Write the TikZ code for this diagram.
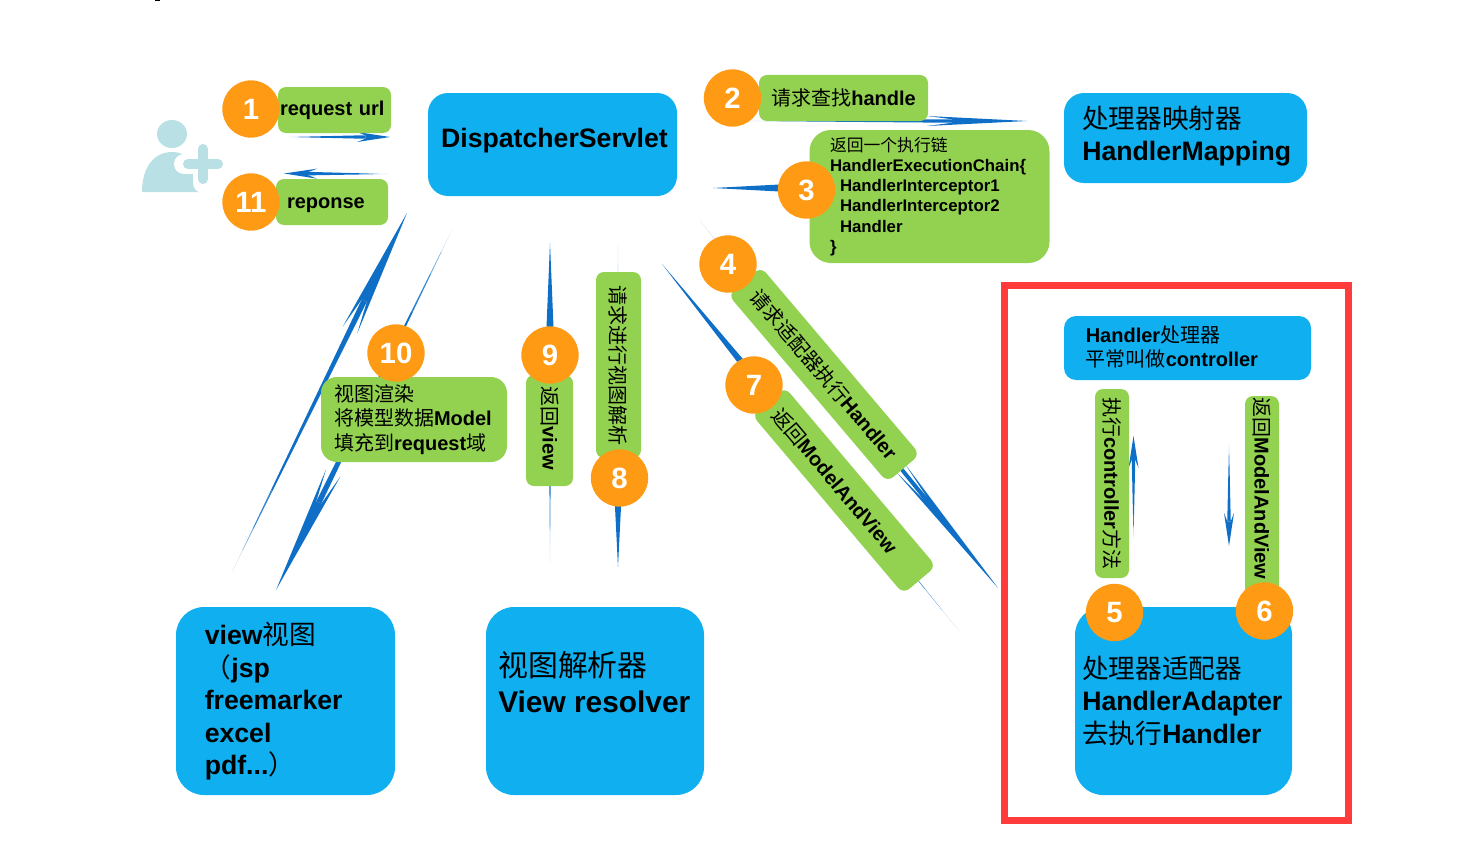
\documentclass[tikz,border=0pt]{standalone}
\usepackage{fontspec}
\setmainfont{Liberation Sans}
\newfontfamily\cjk{Noto Sans CJK SC}
\usetikzlibrary{calc}
\definecolor{boxblue}{HTML}{10B0F0}
\definecolor{boxgreen}{HTML}{92D250}
\definecolor{badgeorange}{HTML}{FF9A15}
\definecolor{needleblue}{HTML}{0F6FC6}
\definecolor{framered}{HTML}{FF3B3B}
\definecolor{persontint}{HTML}{B9E0E4}
\def\px{0.75pt}
\newcommand{\zh}[1]{{\cjk\mdseries #1}}
% tail, tip, head length, head half width
\newcommand{\needle}[4]{
\coordinate (neck) at ($(#2)!#3*\px!(#1)$);
\coordinate (notch) at ($(#2)!0.75*#3*\px!(#1)$);
\foreach \segA/\segB/\tint in {0/.08/30,.08/.16/60,.16/.3/85,.3/1/100}{
\fill[needleblue!\tint!white] ($(#1)!\segA!(notch)!\segA*0.35*#4*\px!90:(#2)$) -- ($(#1)!\segB!(notch)!\segB*0.35*#4*\px!90:(#2)$) -- ($(#1)!\segB!(notch)!\segB*0.35*#4*\px!-90:(#2)$) -- ($(#1)!\segA!(notch)!\segA*0.35*#4*\px!-90:(#2)$) -- cycle;}
\fill[needleblue] ($(notch)!0.35*#4*\px!90:(#2)$) -- ($(neck)!#4*\px!90:(#2)$) -- (#2) -- ($(neck)!#4*\px!-90:(#2)$) -- ($(notch)!0.35*#4*\px!-90:(#2)$) -- cycle;}
\tikzset{
bluebox/.style={fill=boxblue,rounded corners=15pt,inner sep=0pt,font=\fontsize{20}{24.4}\selectfont\bfseries,align=left},
greenbox/.style={fill=boxgreen,rounded corners=6pt,inner sep=0pt,font=\fontsize{15}{18.4}\selectfont\bfseries,align=left},
boxtext/.style={inner sep=0pt,font=\fontsize{15}{18.4}\selectfont\bfseries,align=left},
bigtext/.style={inner sep=0pt,font=\fontsize{20}{24.4}\selectfont\bfseries,align=left},
badge/.style={circle,fill=badgeorange,text=white,minimum size=43pt,inner sep=0pt,font=\fontsize{22}{24}\selectfont\bfseries}
}
\begin{document}
\begin{tikzpicture}[x=0.75pt,y=-0.75pt]
\useasboundingbox (0,0) rectangle (1462,849);
\fill (155,0) rectangle (160,1);
%person
\fill[persontint] (172,134) ellipse (15 and 14);
\fill[persontint] (142,192) .. controls (142,166) and (155,152) .. (172,152) .. controls (188,152) and (200,164) .. (201,192) -- cycle;
\draw[white,line width=15pt,line cap=round] (184,164) -- (222,164) (203,145) -- (203,183);
\draw[persontint,line width=7.5pt,line cap=round] (188,164) -- (218,164) (203,149) -- (203,179);
%ends of the arrows
\coordinate (urltail) at (287,137);
\coordinate (urltip) at (390,137);
\coordinate (repotail) at (387,174);
\coordinate (repotip) at (284,173.5);
\coordinate (findtail) at (748,121);
\coordinate (findtip) at (1027,121);
\coordinate (chaintail) at (1000,188);
\coordinate (chaintip) at (713,188);
\coordinate (adapttail) at (700,221);
\coordinate (adapttip) at (998,588);
\coordinate (mavtail) at (959,631);
\coordinate (mavtip) at (662,264);
\coordinate (resolvetail) at (618,245);
\coordinate (resolvetip) at (618,567);
\coordinate (viewtail) at (550,563);
\coordinate (viewtip) at (550,243);
\coordinate (rendertail) at (452,230);
\coordinate (rendertip) at (276,590);
\coordinate (backtail) at (232,572);
\coordinate (backtip) at (407,213);
\coordinate (runtail) at (1133.5,538);
\coordinate (runtip) at (1133.5,436);
\coordinate (rettail) at (1229,443);
\coordinate (rettip) at (1229,546);
\needle{urltail}{urltip}{33}{5}
\needle{repotail}{repotip}{33}{5}
\needle{findtail}{findtip}{100}{5}
\needle{chaintail}{chaintip}{95}{5}
\needle{adapttail}{adapttip}{155}{6}
\needle{mavtail}{mavtip}{180}{4.5}
\needle{resolvetail}{resolvetip}{120}{6}
\needle{viewtail}{viewtip}{120}{5}
\needle{rendertail}{rendertip}{130}{8}
\needle{backtail}{backtip}{130}{8}
\needle{runtail}{runtip}{32}{5}
\needle{rettail}{rettip}{33}{5}
%blue boxes
\node[bluebox,minimum width=249*\px,minimum height=103*\px] (servlet) at (552.5,144.5) {};
\node[bigtext] (servlettext) at (554.5,140.5) {DispatcherServlet};
\node[bluebox,minimum width=243*\px,minimum height=90*\px] (mapping) at (1185.5,138) {};
\node[bigtext,anchor=west] (mappingtext) at (1082,136) {\zh{处理器映射器}\\HandlerMapping};
\node[bluebox,rounded corners=9pt,minimum width=247*\px,minimum height=64*\px] (handler) at (1187.5,348) {};
\node[boxtext,anchor=west] (handlertext) at (1085.5,347) {Handler\zh{处理器}\\\zh{平常叫做}controller};
\node[bluebox,rounded corners=21pt,minimum width=219*\px,minimum height=188*\px] (viewbox) at (285.5,701) {};
\node[bigtext,anchor=west] (viewtext) at (204.5,701.5) {view\zh{视图}\\\zh{（}jsp\\freemarker\\excel\\pdf...\zh{）}};
\node[bluebox,rounded corners=21pt,minimum width=218*\px,minimum height=188*\px] (resolver) at (595,701) {};
\node[bigtext,font=\fontsize{22.4}{27}\selectfont\bfseries,anchor=west] (resolvertext) at (498,682) {\zh{视图解析器}\\View resolver};
\node[bluebox,rounded corners=21pt,minimum width=217*\px,minimum height=188*\px] (adapter) at (1183.5,701) {};
\node[bigtext,anchor=west] (adaptertext) at (1082,700.5) {\zh{处理器适配器}\\HandlerAdapter\\\zh{去执行}Handler};
%green boxes
\node[greenbox,inner xsep=2*\px,text width=109*\px,minimum height=46*\px] (request) at (334.5,110) {request url};
\node[greenbox,inner xsep=11*\px,text width=90*\px,minimum height=46*\px,text height=14pt,text depth=4pt] (reponse) at (332,202) {reponse};
\node[greenbox,minimum width=169*\px,minimum height=46*\px] (find) at (843.5,98) {\zh{请求查找}handle};
\node[greenbox,rounded corners=16pt,font=\fontsize{12.6}{15.15}\selectfont\bfseries,inner xsep=20.5*\px,text width=199*\px,minimum height=133*\px] (chain) at (929.5,196.5) {\zh{返回一个执行链}\\HandlerExecutionChain\{\\\hspace*{7.5pt}HandlerInterceptor1\\\hspace*{7.5pt}HandlerInterceptor2\\\hspace*{7.5pt}Handler\\\}};
\node[greenbox,minimum width=246*\px,minimum height=43*\px,rotate=-49.7] (adapt) at (824,374.5) {\zh{请求适配器执行}Handler};
\node[greenbox,minimum width=234.5*\px,minimum height=43*\px,rotate=-49.8] (mav) at (844,490.5) {};
\node[boxtext,rotate=-49.8] (mavtext) at (835,481) {\zh{返回}ModelAndView};
\node[greenbox,minimum width=186*\px,minimum height=45*\px,rotate=-90] (resolve) at (618.5,365) {\zh{请求进行视图解析}};
\node[greenbox,minimum width=111*\px,minimum height=47*\px,rotate=-90] (backview) at (549.5,430.5) {};
\node[boxtext,rotate=-90] (backviewtext) at (550,428) {\zh{返回}view};
\node[greenbox,rounded corners=12pt,inner xsep=13*\px,text width=160*\px,minimum height=85*\px] (render) at (414,419.5) {\zh{视图渲染}\\\zh{将模型数据}Model\\\zh{填充到}request\zh{域}};
\node[greenbox,minimum width=189*\px,minimum height=34*\px,rotate=-90] (run) at (1112,483.5) {\zh{执行}controller\zh{方法}};
\node[greenbox,minimum width=214*\px,minimum height=34*\px,rotate=-90] (ret) at (1262,503) {};
\node[boxtext,rotate=-90] (rettext) at (1262,488.5) {\zh{返回}ModelAndView};
%badges
\node[badge] (one) at (251,109) {1};
\node[badge] (eleven) at (251,202) {11};
\node[badge] (two) at (732.5,98) {2};
\node[badge] (three) at (806.5,190) {3};
\node[badge] (four) at (728,264) {4};
\node[badge] (seven) at (754,385) {7};
\node[badge] (ten) at (396,353) {10};
\node[badge] (nine) at (550,355) {9};
\node[badge] (eight) at (619.5,478) {8};
\node[badge] (five) at (1114.5,612.5) {5};
\node[badge] (six) at (1264.5,611) {6};
%frame
\draw[framered,line width=5.25pt] (1004.5,285.5) rectangle (1348.5,820.5);
\end{tikzpicture}
\end{document}
